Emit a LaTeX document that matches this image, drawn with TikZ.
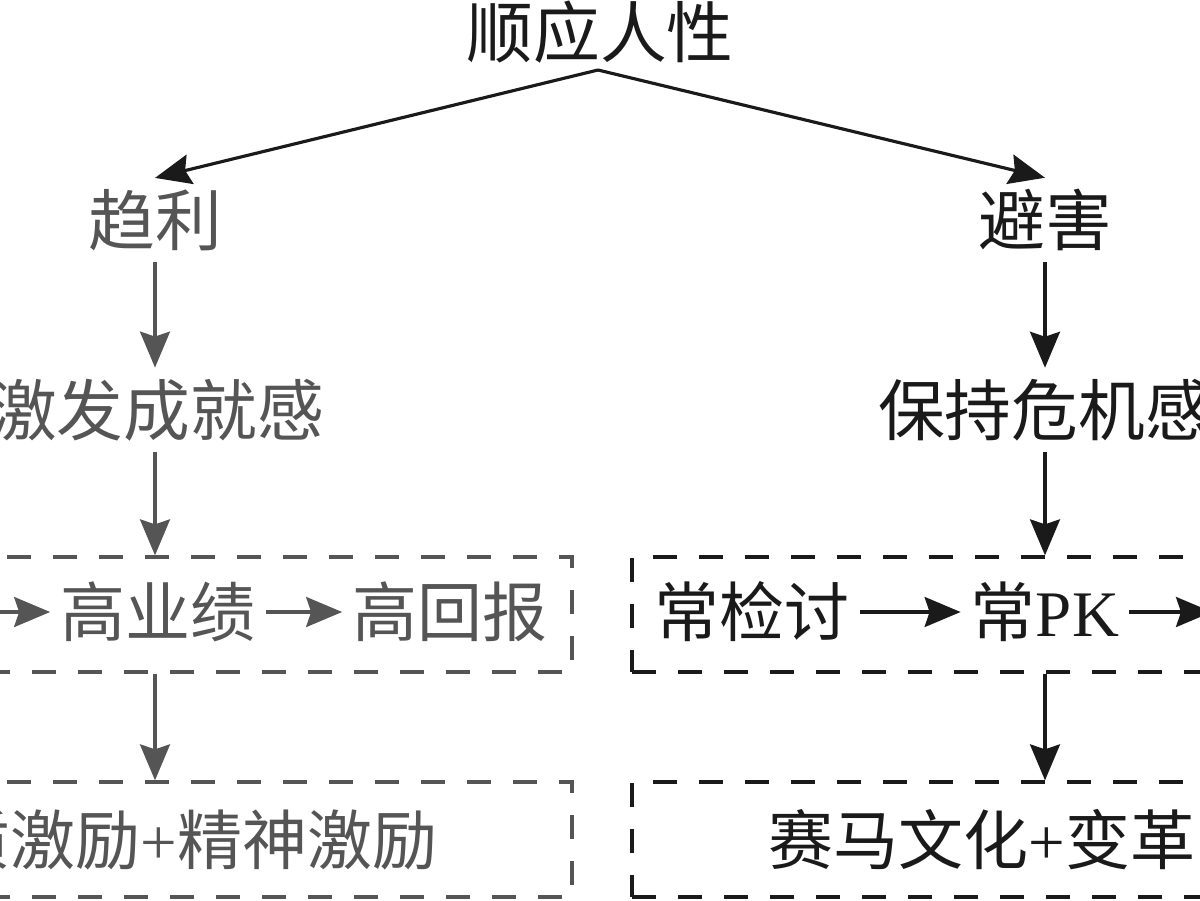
\documentclass[tikz,border=0pt]{standalone}
\usepackage{fontspec}
\setmainfont{Liberation Serif}
\newfontfamily\cjk{Noto Sans CJK SC}
\usetikzlibrary{arrows.meta}
\definecolor{gr}{HTML}{555555}
\definecolor{bk}{HTML}{1A1A1A}
\begin{document}
\begin{tikzpicture}[x=0.02cm,y=-0.02cm,
  txt/.style={font=\fontsize{38}{42}\selectfont\cjk, inner sep=0.22cm},
  rowtxt/.style={font=\fontsize{37}{42}\selectfont\cjk, inner xsep=0.2cm, inner ysep=0.2cm},
  arr/.style={line width=1.8pt, -{Stealth[length=0.72cm,width=0.6cm,inset=0.1cm]}},
  dbox/.style={draw, line width=1.9pt, dash pattern=on 0.48cm off 0.44cm,
    minimum width=12.64cm, minimum height=2.3cm, inner sep=0}]
\useasboundingbox (0,0) rectangle (1200,900);
\clip (0,0) rectangle (1200,900);
% top
\node[txt,text=bk] (top) at (600,32) {顺应人性};
\coordinate (apex) at (598,70);
\node[txt,text=gr] (qu) at (155,220) {趋利};
\node[txt,text=bk] (bi) at (1045,220) {避害};
\draw[arr,draw=bk,fill=bk] (apex) -- (qu.north);
\draw[arr,draw=bk,fill=bk] (apex) -- (bi.north);
% left column
\node[txt,text=gr] (ji) at (157,410) {激发成就感};
\node[dbox,draw=gr] (box1) at (256,614.5) {};
\node[dbox,draw=gr] (box2) at (256,839.5) {};
\draw[arr,draw=gr,fill=gr] (qu.south) -- (qu.south |- ji.north);
\draw[arr,draw=gr,fill=gr] (qu.south |- ji.south) -- (qu.south |- box1.north);
\draw[arr,draw=gr,fill=gr] (qu.south |- box1.south) -- (qu.south |- box2.north);
\coordinate (lin) at (-10,612);
\node[rowtxt,text=gr] (gy) at (158,612) {高业绩};
\node[rowtxt,text=gr] (hb) at (450,612) {高回报};
\draw[arr,draw=gr,fill=gr] (lin) -- (gy.west);
\draw[arr,draw=gr,fill=gr] (gy.east) -- (hb.west);
\node[rowtxt,text=gr,anchor=east] (jl) at (448,840) {质激励{\rmfamily +}精神激励};
% right column
\node[txt,text=bk] (wj) at (1045,410) {保持危机感};
\node[dbox,draw=bk] (box3) at (948,614.5) {};
\node[dbox,draw=bk] (box4) at (948,839.5) {};
\draw[arr,draw=bk,fill=bk] (bi.south) -- (wj.north);
\draw[arr,draw=bk,fill=bk] (wj.south) -- (wj.south |- box3.north);
\draw[arr,draw=bk,fill=bk] (wj.south |- box3.south) -- (wj.south |- box4.north);
\node[rowtxt,text=bk] (cj) at (752,612) {常检讨};
\node[rowtxt,text=bk] (pk) at (1045,612) {常{\rmfamily PK}};
\coordinate (rout) at (1212,612);
\draw[arr,draw=bk,fill=bk] (cj.east) -- (pk.west);
\draw[arr,draw=bk,fill=bk] (pk.east) -- (rout);
\node[rowtxt,text=bk,anchor=west] (sm) at (758,840) {赛马文化{\rmfamily +}变革};
\end{tikzpicture}
\end{document}
